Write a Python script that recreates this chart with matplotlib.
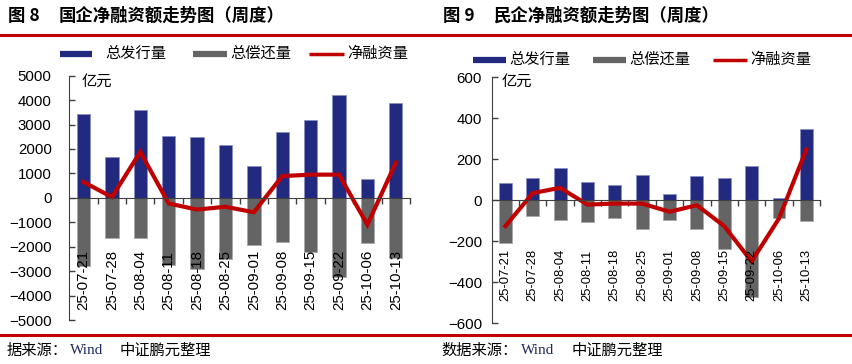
import matplotlib
matplotlib.use("Agg")
import matplotlib.pyplot as plt
import matplotlib.transforms as mtransforms
from matplotlib.lines import Line2D
import numpy as np

plt.rcParams['font.family'] = ['Liberation Sans', 'Noto Sans CJK SC', 'DejaVu Sans']

dates = ["25-07-21", "25-07-28", "25-08-04", "25-08-11", "25-08-18", "25-08-25",
         "25-09-01", "25-09-08", "25-09-15", "25-09-22", "25-10-06", "25-10-13"]

# 国企 (state-owned), 亿元
soe_issue = [3440, 1670, 3610, 2530, 2480, 2150, 1290, 2700, 3170, 4200, 770, 3870]
soe_repay = [-2770, -1650, -1650, -2760, -2930, -2510, -1920, -1820, -2230, -3220, -1860, -2460]
soe_net = [650, 30, 1880, -230, -480, -365, -590, 890, 950, 950, -1100, 1440]

# 民企 (private), 亿元
poe_issue = [83, 111, 160, 90, 73, 122, 29, 117, 111, 166, 10, 349]
poe_repay = [-210, -76, -98, -108, -87, -142, -94, -142, -237, -470, -87, -103]
poe_net = [-126, 35, 61, -21, -16, -16, -56, -24, -126, -298, -89, 248]

series_names = ["总发行量", "总偿还量", "净融资量"]
titles = [("图 8", "国企净融资额走势图（周度）"), ("图 9", "民企净融资额走势图（周度）")]
unit = "亿元"

BLUE = "#222A80"
GREY = "#646464"
RED = "#C00000"
SPINE = "#404040"

W, H = 853, 364
fig = plt.figure(figsize=(W / 100, H / 100), dpi=100)


def fx(px):
    return px / W


def fy(py):
    return 1 - py / H


def draw_panel(ax, issue, repay, net, ylim, ystep, ypad, xlab_size, xlab_y):
    x = np.arange(len(dates))
    ax.bar(x, issue, width=0.47, color=BLUE, edgecolor="#8a90c8", linewidth=0.6, zorder=2)
    ax.bar(x, repay, width=0.47, color=GREY, edgecolor="#a8a8a8", linewidth=0.6, zorder=2)
    ax.plot(x, net, color=RED, lw=3.0, zorder=4, solid_joinstyle="miter")
    ax.set_xlim(-0.5, len(dates) - 0.5)
    ax.set_ylim(*ylim)
    ax.set_yticks(np.arange(ylim[0], ylim[1] + ystep / 2, ystep))
    ax.tick_params(axis="y", direction="in", length=4, width=1, color=SPINE,
                   labelsize=10.8, pad=ypad)
    ax.set_xticks(np.arange(0.5, len(dates), 1.0))
    ax.set_xticklabels([])
    ax.tick_params(axis="x", direction="out", length=4, width=1, color=SPINE)
    for s in ["top", "right"]:
        ax.spines[s].set_visible(False)
    ax.spines["bottom"].set_position(("data", 0))
    ax.spines["bottom"].set_color(SPINE)
    ax.spines["left"].set_color(SPINE)
    ax.spines["bottom"].set_zorder(5)
    trans = mtransforms.blended_transform_factory(ax.transData, ax.transAxes)
    for i, d in enumerate(dates):
        ax.text(i, xlab_y, d, rotation=90, ha="center", va="bottom",
                fontsize=xlab_size, transform=trans, zorder=6)
    ax.patch.set_alpha(0)


# axes positions (from pixel measurements)
ax1 = fig.add_axes([fx(69.3), fy(320), fx(410 - 69.3), (320 - 75.7) / H])
ax2 = fig.add_axes([fx(491.7), fy(323.3), fx(820 - 491.7), (323.3 - 77.3) / H])

draw_panel(ax1, soe_issue, soe_repay, soe_net, (-5000, 5000), 1000, 12.7, 10.8, 0.041)
draw_panel(ax2, poe_issue, poe_repay, poe_net, (-600, 600), 200, 7.0, 9.4, 0.092)

# unit labels
fig.text(fx(82), fy(82), unit, fontsize=11, va="center", ha="left")
fig.text(fx(501.7), fy(82), unit, fontsize=11, va="center", ha="left")

# titles
fig.text(fx(8), fy(16), titles[0][0], fontsize=12.5, fontweight="bold",
         family=["Noto Sans CJK SC"], va="center", ha="left")
fig.text(fx(59), fy(16), titles[0][1], fontsize=12.5, fontweight="bold",
         family=["Noto Sans CJK SC"], va="center", ha="left")
fig.text(fx(443), fy(16), titles[1][0], fontsize=12.5, fontweight="bold",
         family=["Noto Sans CJK SC"], va="center", ha="left")
fig.text(fx(493), fy(16), titles[1][1], fontsize=12.5, fontweight="bold",
         family=["Noto Sans CJK SC"], va="center", ha="left")

# red rules
fig.add_artist(Line2D([0, 1], [fy(34.5), fy(34.5)], color=RED, lw=2.2,
                      transform=fig.transFigure))
fig.add_artist(Line2D([0, 1], [fy(334.7), fy(334.7)], color=RED, lw=2.2,
                      transform=fig.transFigure))

# legends (manual)
def legend(entries, yc):
    for (x0, x1, tx), name, col, lw in entries:
        fig.add_artist(Line2D([fx(x0), fx(x1)], [fy(yc), fy(yc)], color=col, lw=lw,
                              transform=fig.transFigure, solid_capstyle="butt"))
        fig.text(fx(tx), fy(yc), name, fontsize=11, va="center", ha="left")


legend([((60, 92, 105), series_names[0], BLUE, 4.5),
        ((193, 227, 230), series_names[1], GREY, 4.5),
        ((309, 344, 347), series_names[2], RED, 2.5)], 54)
legend([((473.3, 506, 509), series_names[0], BLUE, 4.5),
        ((593.3, 626, 629), series_names[1], GREY, 4.5),
        ((712.7, 746.7, 750), series_names[2], RED, 2.5)], 59.5)

# footers
for (x_a, x_w, x_b, src) in [(7, 70, 120, "据来源："), (441.7, 520.7, 571.7, "数据来源：")]:
    fig.text(fx(x_a), fy(350), src, fontsize=11, va="center", ha="left",
             family=["Noto Sans CJK SC"])
    fig.text(fx(x_w), fy(350), "Wind", fontsize=11, va="center", ha="left",
             family=["Liberation Serif"], color="#1F2A5A")
    fig.text(fx(x_b), fy(350), "中证鹏元整理", fontsize=11, va="center", ha="left",
             family=["Noto Sans CJK SC"])

fig.savefig("out.png", dpi=100)
